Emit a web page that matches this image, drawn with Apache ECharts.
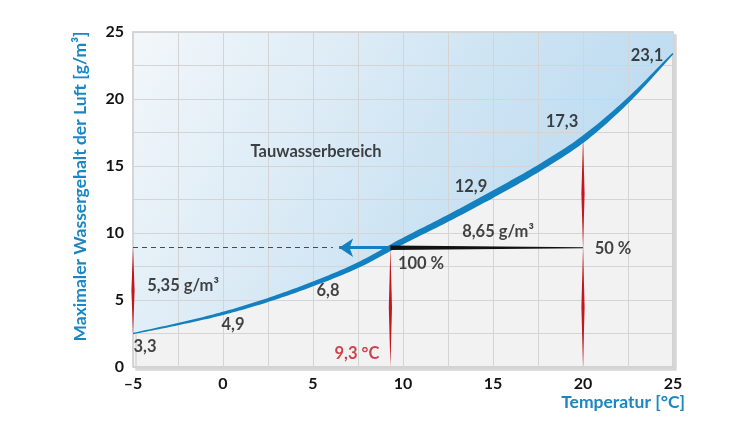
<!DOCTYPE html>
<html>
<head>
<meta charset="utf-8">
<script src="https://cdn.jsdelivr.net/npm/echarts@6/dist/echarts.min.js"></script>
<style>
html,body{margin:0;padding:0;background:#fff;}
#chart{width:750px;height:422px;}
</style>
</head>
<body>
<div id="chart"></div>
<script>
// saturation curve
const temps = [-5, -2.5, 0, 2.5, 5, 7.5, 10, 12.5, 15, 17.5, 20, 22.5, 25];
const waterContent = [2.5, 3.2, 4.0, 5.0, 6.2, 7.6, 9.4, 11.1, 12.9, 14.8, 17.0, 19.9, 23.4];

// labelled values on the curve
const labelTemps = [-5, 0, 5, 15, 20, 25];
const labelTexts = ['3,3', '4,9', '6,8', '12,9', '17,3', '23,1'];

// dew point example
const dewTemp = 9.3;
const dewLevel = 8.9;
const roomTemp = 20;
const arrowTip = 6.1;

// red markers: temp, from, to
const redX = [-5, 9.3, 20, 20];
const redFrom = [2.5, 0, 0, 8.9];
const redTo = [8.9, 8.9, 8.9, 17.0];

// free text in the plot
const noteTexts = ['Tauwasserbereich', '5,35 g/m³', '8,65 g/m³', '100 %', '50 %', '9,3 °C'];
const noteX = [5.17, -2.22, 15.28, 11.0, 21.67, 7.44];
const noteY = [16.04, 6.04, 10.07, 7.7, 8.8, 0.97];

const FONT = 'Lato, "Open Sans", sans-serif';
const BLUE = '#1380c0';
const RED = '#c3161f';
const INK = '#141414';

const curve = temps.map((t, i) => [t, waterContent[i]]);

// label offsets, px
const labelOffsets = [[12, 13], [10, 11], [15, 7], [-22, -7], [-21, -18], [-26, 2]];

function tickFmt(v) {
  if (v % 5 !== 0) return '';
  return v < 0 ? '\u2013' + Math.abs(v) : String(v);
}

// stroke width along the curve (px), by temperature
function strokeWidth(t) {
  const wt = [-5, -2.5, 0, 5, 10, 15, 20, 22.5, 25];
  const wp = [1.3, 2.3, 3.2, 4.6, 6.0, 6.8, 6.2, 4.6, 1.6];
  for (let i = 0; i < wt.length - 1; i++) {
    if (t <= wt[i + 1]) {
      const f = (t - wt[i]) / (wt[i + 1] - wt[i]);
      return wp[i] + f * (wp[i + 1] - wp[i]);
    }
  }
  return wp[wp.length - 1];
}

// smooth path through the curve points, in pixels
function curvePath(api) {
  const pts = curve.map(p => api.coord(p));
  const n = pts.length;
  const tan = pts.map((p, i) => {
    const a = pts[Math.max(i - 1, 0)], b = pts[Math.min(i + 1, n - 1)];
    const k = (i === 0 || i === n - 1) ? 1 : 0.5;
    return [(b[0] - a[0]) * k, (b[1] - a[1]) * k];
  });
  const line = [];
  const STEPS = 14;
  for (let i = 0; i < n - 1; i++) {
    for (let s = 0; s < STEPS; s++) {
      const u = s / STEPS, u2 = u * u, u3 = u2 * u;
      const h00 = 2 * u3 - 3 * u2 + 1, h10 = u3 - 2 * u2 + u, h01 = -2 * u3 + 3 * u2, h11 = u3 - u2;
      line.push({
        x: h00 * pts[i][0] + h10 * tan[i][0] + h01 * pts[i + 1][0] + h11 * tan[i + 1][0],
        y: h00 * pts[i][1] + h10 * tan[i][1] + h01 * pts[i + 1][1] + h11 * tan[i + 1][1],
        t: temps[i] + u * (temps[i + 1] - temps[i])
      });
    }
  }
  line.push({ x: pts[n - 1][0], y: pts[n - 1][1], t: temps[n - 1] });
  return line;
}

// condensation area above the curve
function renderArea(params, api) {
  if (params.dataIndex !== 0) return null;
  const line = curvePath(api);
  const area = line.map(p => [p.x, p.y]).concat([api.coord([25, 25]), api.coord([-5, 25])]);
  return {
    type: 'polygon',
    shape: { points: area },
    style: {
      fill: new echarts.graphic.LinearGradient(0, 0, 1, 1, [
        { offset: 0, color: '#f3f7fa' },
        { offset: 0.55, color: '#cce3f3' },
        { offset: 1, color: '#b3d6ef' }
      ])
    }
  };
}

// tapered curve stroke
function renderStroke(params, api) {
  if (params.dataIndex !== 0) return null;
  const line = curvePath(api);
  const upper = [], lower = [];
  line.forEach((p, i) => {
    const a = line[Math.max(i - 1, 0)], b = line[Math.min(i + 1, line.length - 1)];
    const dx = b.x - a.x, dy = b.y - a.y, len = Math.hypot(dx, dy) || 1;
    const nx = -dy / len, ny = dx / len, w = strokeWidth(p.t) / 2;
    upper.push([p.x + nx * w, p.y + ny * w]);
    lower.push([p.x - nx * w, p.y - ny * w]);
  });
  return {
    type: 'polygon',
    shape: { points: upper.concat(lower.reverse()) },
    style: { fill: BLUE }
  };
}

function renderTaper(params, api) {
  const p1 = api.coord([api.value(0), api.value(1)]);
  const p2 = api.coord([api.value(2), api.value(3)]);
  const len = Math.hypot(p2[0] - p1[0], p2[1] - p1[1]) || 1;
  const nx = -(p2[1] - p1[1]) / len, ny = (p2[0] - p1[0]) / len;
  const w1 = 2.2, w2 = 0.5;
  return {
    type: 'polygon',
    shape: { points: [
      [p1[0] + nx * w1, p1[1] + ny * w1],
      [p2[0] + nx * w2, p2[1] + ny * w2],
      [p2[0] - nx * w2, p2[1] - ny * w2],
      [p1[0] - nx * w1, p1[1] - ny * w1]
    ]},
    style: { fill: '#111' }
  };
}

function renderSpindle(params, api) {
  const p1 = api.coord([api.value(0), api.value(1)]);
  const p2 = api.coord([api.value(0), api.value(2)]);
  const mx = (p1[0] + p2[0]) / 2, my = (p1[1] + p2[1]) / 2;
  const w = 1.6;
  return {
    type: 'polygon',
    shape: { points: [p1, [mx + w, my], p2, [mx - w, my]] },
    style: { fill: RED }
  };
}

const chart = echarts.init(document.getElementById('chart'));

const tickLabel = { formatter: tickFmt, margin: 9, color: INK, fontSize: 16, fontWeight: 'bold', fontFamily: FONT };
const noteLabel = {
  show: true, position: 'inside', formatter: p => p.value[2],
  color: INK, fontSize: 16.5, fontWeight: 'bold', fontFamily: FONT
};
const nameStyle = { color: '#1a86c3', fontSize: 17.5, fontWeight: 'bold', fontFamily: FONT };

chart.setOption({
  animation: false,
  textStyle: { fontFamily: FONT },
  grid: {
    left: 133, right: 77, top: 32, bottom: 55,
    show: true, backgroundColor: '#f2f2f2',
    borderColor: '#c9c9c9', borderWidth: 1.5,
    shadowColor: '#d6d6d6', shadowOffsetX: 3, shadowOffsetY: 3, shadowBlur: 0
  },
  xAxis: {
    type: 'value', min: -5, max: 25, interval: 2.5, z: 3,
    axisLine: { show: false }, axisTick: { show: false },
    splitLine: { lineStyle: { color: '#d4d4d4', width: 1 } },
    axisLabel: tickLabel,
    name: 'Temperatur [°C]', nameLocation: 'end', nameGap: 12,
    nameTextStyle: Object.assign({ align: 'right', verticalAlign: 'top', padding: [26, 0, 0, 0] }, nameStyle)
  },
  yAxis: {
    type: 'value', min: 0, max: 25, interval: 2.5, z: 3,
    axisLine: { show: false }, axisTick: { show: false },
    splitLine: { lineStyle: { color: '#d4d4d4', width: 1 } },
    axisLabel: tickLabel,
    name: 'Maximaler Wassergehalt der Luft [g/m³]', nameLocation: 'middle', nameGap: 44, nameRotate: 90,
    nameTextStyle: Object.assign({ padding: [0, 0, 0, 26] }, nameStyle)
  },
  series: [
    {
      type: 'custom', renderItem: renderArea, silent: true, z: 1,
      encode: { x: 0, y: 1 }, data: curve
    },
    {
      type: 'custom', renderItem: renderStroke, silent: true, z: 5,
      encode: { x: 0, y: 1 }, data: curve
    },
    // dashed level line
    {
      type: 'lines', coordinateSystem: 'cartesian2d', silent: true, z: 4,
      lineStyle: { color: '#4a4a4a', width: 1.2, type: [5, 4], opacity: 1 },
      data: [{ coords: [[-5, dewLevel], [arrowTip, dewLevel]] }]
    },
    // blue arrow
    {
      type: 'lines', coordinateSystem: 'cartesian2d', silent: true, z: 6,
      symbol: ['none', 'arrow'], symbolSize: [11, 14],
      lineStyle: { color: BLUE, width: 3, opacity: 1 },
      data: [{ coords: [[dewTemp, dewLevel], [arrowTip + 0.35, dewLevel]] }]
    },
    // black line to the room temperature
    {
      type: 'custom', renderItem: renderTaper, silent: true, z: 6,
      encode: { x: [0, 2], y: [1, 3] },
      data: [[dewTemp, dewLevel, roomTemp, dewLevel]]
    },
    // red markers
    {
      type: 'custom', renderItem: renderSpindle, silent: true, z: 4,
      encode: { x: 0, y: [1, 2] },
      data: redX.map((x, i) => [x, redFrom[i], redTo[i]])
    },
    // values on the curve
    {
      type: 'scatter', symbolSize: 0, silent: true, z: 7,
      data: labelTemps.map((t, i) => ({
        value: [t, waterContent[temps.indexOf(t)], labelTexts[i]],
        label: { offset: labelOffsets[i] }
      })),
      label: noteLabel
    },
    // notes
    {
      type: 'scatter', symbolSize: 0, silent: true, z: 7,
      data: noteTexts.map((s, i) => ({
        value: [noteX[i], noteY[i], s],
        label: s.indexOf('°C') >= 0 ? { color: RED } : {}
      })),
      label: noteLabel
    }
  ]
});
</script>
</body>
</html>
